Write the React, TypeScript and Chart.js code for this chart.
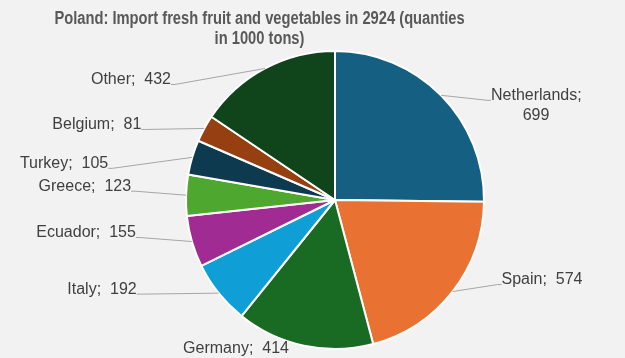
import React, { useEffect, useRef } from "react";
import { Chart, registerables } from "chart.js";

Chart.register(...registerables);

const titleLines = ["Poland: Import fresh fruit and vegetables in 2924 (quanties", "in 1000 tons)"];
const countries = ["Netherlands", "Spain", "Germany", "Italy", "Ecuador", "Greece", "Turkey", "Belgium", "Other"];
const volumes = [699, 574, 414, 192, 155, 123, 105, 81, 432];
const sliceColors = ["#156082", "#E97132", "#196B24", "#0F9ED5", "#A02B93", "#4EA72E", "#0E3A50", "#963F11", "#10441A"];

// label layout: [dx, dy from slice edge point, align, drawLine]
const labelLayout: [number, number, CanvasTextAlign, boolean][] = [
  [50, 0, "left", true],
  [49, -12, "left", true],
  [-68, 3, "center", false],
  [-82, -4, "right", true],
  [-56, -9, "right", true],
  [-55, -9, "right", true],
  [-84, 6, "right", true],
  [-63, -4, "right", true],
  [-94, 11, "right", true],
];

const labelPlugin = {
  id: "sliceLabels",
  afterDraw(chart: any) {
    const ctx = chart.ctx;
    const meta = chart.getDatasetMeta(0);
    ctx.save();
    ctx.fillStyle = "#595959";
    ctx.font = "bold 18px 'Liberation Sans', Arial, sans-serif";
    ctx.textAlign = "center";
    ctx.textBaseline = "middle";
    const sx = 0.817;
    ctx.save();
    ctx.scale(sx, 1);
    titleLines.forEach((t, i) => ctx.fillText(t, 259.5 / sx, 19 + i * 20));
    ctx.restore();

    ctx.font = "16px 'Liberation Sans', Arial, sans-serif";
    meta.data.forEach((arc: any, i: number) => {
      const mid = (arc.startAngle + arc.endAngle) / 2;
      const ex = arc.x + Math.cos(mid) * arc.outerRadius;
      const ey = arc.y + Math.sin(mid) * arc.outerRadius;
      const [dx, dy, align, line] = labelLayout[i];
      const lx = ex + dx;
      const ly = ey + dy;
      if (line) {
        ctx.strokeStyle = "#A6A6A6";
        ctx.lineWidth = 1;
        ctx.beginPath();
        ctx.moveTo(ex, ey);
        ctx.lineTo(lx + (align === "left" ? -4 : 4), ly + 5);
        ctx.lineTo(lx, ly + 5);
        ctx.stroke();
      }
      ctx.fillStyle = "#404040";
      ctx.textAlign = align;
      ctx.textBaseline = "middle";
      const label = countries[i];
      const val = String(volumes[i]);
      if (i === 0) {
        ctx.textAlign = "left";
        ctx.fillText(label + ";", lx, ly);
        ctx.textAlign = "center";
        ctx.fillText(val, lx + 45, ly + 20);
      } else {
        ctx.fillText(label + ";  " + val, lx, ly);
      }
    });
    ctx.restore();
  },
};

export default function App() {
  const ref = useRef<HTMLCanvasElement>(null);
  useEffect(() => {
    document.body.style.margin = "0";
    document.body.style.background = "#F2F2F2";
    const chart = new Chart(ref.current!, {
      type: "pie",
      data: {
        labels: countries,
        datasets: [
          {
            data: volumes,
            backgroundColor: sliceColors,
            borderColor: "#FFFFFF",
            borderWidth: 2,
          },
        ],
      },
      options: {
        animation: false,
        responsive: false,
        layout: { padding: { top: 50, bottom: 8, left: 45, right: 0 } },
        plugins: { legend: { display: false }, tooltip: { enabled: false }, title: { display: false } },
      },
      plugins: [labelPlugin],
    });
    return () => chart.destroy();
  }, []);
  return (
    <div style={{ width: 625, height: 358, background: "#F2F2F2" }}>
      <canvas ref={ref} width={625} height={358} />
    </div>
  );
}
